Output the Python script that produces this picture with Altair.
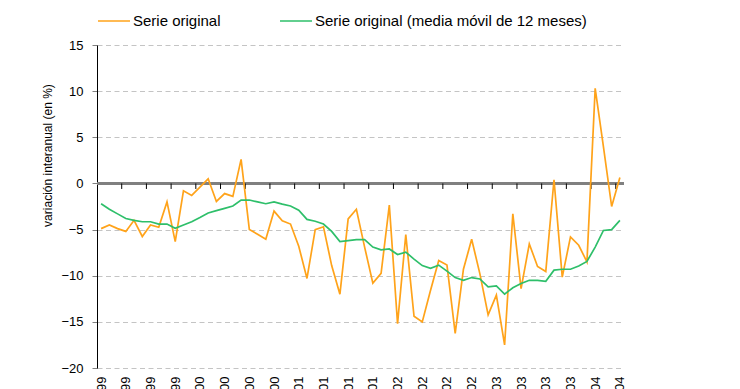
import altair as alt
import pandas as pd

# Monthly series, Jan 1999 - Apr 2004 (64 months)
serie_original = [
    -4.9, -4.5, -4.9, -5.2, -4.0, -5.75, -4.5, -4.75, -2.0, -6.3,
    -0.8, -1.3, -0.4, 0.5, -1.95, -1.1, -1.4, 2.6, -5.0, -5.5,
    -6.05, -3.0, -4.05, -4.4, -6.8, -10.3, -5.0, -4.7, -8.9, -12.0,
    -3.85, -2.8, -6.9, -10.8, -9.75, -2.35, -15.2, -5.55, -14.4, -15.0,
    -11.6, -8.35, -8.85, -16.25, -9.3, -6.05, -9.8, -14.25, -12.1, -17.5,
    -3.3, -11.4, -6.55, -9.0, -9.55, 0.4, -10.15, -5.8, -6.7, -8.5,
    10.3, 4.0, -2.5, 0.65,
]
media_movil = [
    -2.2, -2.8, -3.3, -3.8, -4.0, -4.15, -4.15, -4.4, -4.4, -4.87,
    -4.5, -4.15, -3.7, -3.2, -2.95, -2.7, -2.45, -1.8, -1.8, -2.0,
    -2.2, -2.0, -2.25, -2.45, -2.9, -3.9, -4.1, -4.4, -5.2, -6.3,
    -6.2, -6.1, -6.1, -6.9, -7.2, -7.1, -7.7, -7.45, -8.2, -8.9,
    -9.2, -8.85, -9.5, -10.2, -10.5, -10.2, -10.35, -11.2, -11.1, -12.0,
    -11.3, -10.85, -10.5, -10.5, -10.6, -9.4, -9.3, -9.3, -8.95, -8.45,
    -6.9, -5.1, -5.0, -4.0,
]
tick_labels = [
    "ene-99", "abr-99", "jul-99", "oct-99",
    "ene-00", "abr-00", "jul-00", "oct-00",
    "ene-01", "abr-01", "jul-01", "oct-01",
    "ene-02", "abr-02", "jul-02", "oct-02",
    "ene-03", "abr-03", "jul-03", "oct-03",
    "ene-04", "abr-04",
]
series_names = ["Serie original", "Serie original (media móvil de 12 meses)"]
series_colors = ["#FFA31A", "#2EBF6A"]

n = len(serie_original)
rows = []
for i in range(n):
    rows.append({"x": i + 0.5, "v": serie_original[i], "serie": series_names[0]})
for i in range(n):
    rows.append({"x": i + 0.5, "v": media_movil[i], "serie": series_names[1]})
df = pd.DataFrame(rows)

tick_df = pd.DataFrame({"x": list(range(3, n, 3))})
zero_df = pd.DataFrame({"v": [0]})

label_expr = "[" + ",".join(f"'{s}'" for s in tick_labels) + "][floor(datum.value / 3)]"
FONT = "Liberation Sans"

x_scale = alt.Scale(domain=[0, n], nice=False, zero=False)
y_scale = alt.Scale(domain=[-20, 15], nice=False, zero=False)

x_axis = alt.Axis(
    values=[i + 0.5 for i in range(0, n, 3)],
    labelExpr=label_expr, labelAngle=270, labelAlign="right",
    labelBaseline="middle", labelPadding=8, ticks=False, domain=False,
    grid=False, title=None, labelFontSize=13, labelFont=FONT,
    labelColor="black", labelOverlap=False, labelFlush=False,
    labelSeparation=0, labelBound=False)
y_axis = alt.Axis(
    values=[-20, -15, -10, -5, 0, 5, 10, 15], grid=True,
    gridDash=[5, 3.5], gridColor="#C4C4C4", gridWidth=1,
    domainColor="black", domainWidth=1, tickColor="#808080",
    tickSize=5, labelFontSize=13, labelFont=FONT, labelColor="black",
    labelPadding=9, title="variación interanual (en %)",
    titleFontSize=12, titleFont=FONT, titleFontWeight="normal",
    titleColor="black", titleX=-46, titleY=110, titleAlign="center",
    titleBaseline="alphabetic", titleAngle=270)

lines = alt.Chart(df).mark_line(strokeWidth=1.7).encode(
    x=alt.X("x:Q", scale=x_scale, axis=x_axis),
    y=alt.Y("v:Q", scale=y_scale, axis=y_axis),
    color=alt.Color("serie:N", sort=series_names,
                    scale=alt.Scale(domain=series_names, range=series_colors),
                    legend=alt.Legend(
                        orient="none", legendX=0, legendY=-41,
                        direction="horizontal", title=None,
                        symbolType="stroke", symbolSize=1024,
                        symbolStrokeWidth=1.5, labelFontSize=15,
                        labelFont=FONT, labelColor="black",
                        columnPadding=56, labelOffset=2, padding=0,
                        labelLimit=400)),
    order="x:Q",
)

zero_line = alt.Chart(zero_df).mark_rule(color="#808080", strokeWidth=3).encode(
    y=alt.Y("v:Q", scale=y_scale, axis=y_axis)
)

zero_ticks = alt.Chart(tick_df).mark_rule(color="black", strokeWidth=1).encode(
    x=alt.X("x:Q", scale=x_scale, axis=x_axis),
    y=alt.datum(0),
    y2=alt.datum(-0.6),
)

chart = alt.layer(zero_line, zero_ticks, lines).properties(
    width=527, height=323,
    autosize=alt.AutoSizeParams(type="none"),
    padding={"left": 89, "top": 37, "right": 100, "bottom": 21},
    background="white",
).configure_view(stroke=None)

chart.save("out.html", embed_options={"renderer": "svg", "actions": False})
